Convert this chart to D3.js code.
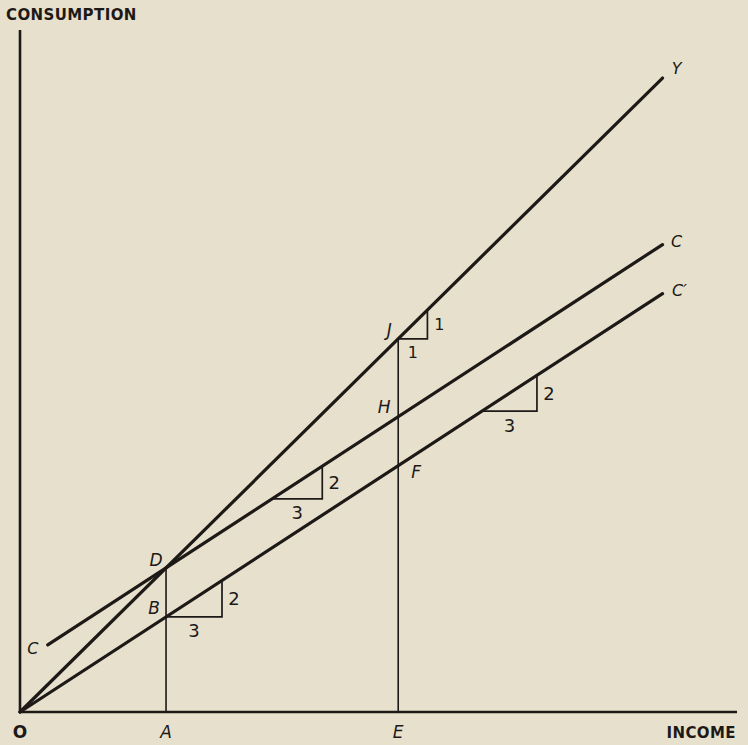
<!DOCTYPE html>
<html>
<head>
<meta charset="utf-8">
<script src="https://cdn.jsdelivr.net/npm/d3@7"></script>
<style>
  html, body { margin: 0; padding: 0; background: #e7e0cd; }
  svg { display: block; }
  text { fill: #1d1917; font-family: "DejaVu Sans", "Liberation Sans", sans-serif; }
</style>
</head>
<body>
<svg id="chart" width="748" height="745"></svg>
<script>
// DATA (income / consumption units)
const scheduleNames = ["Y", "C", "C′"];
const scheduleIntercepts = [0, 1.02, 0];
const scheduleSlopes = [1, 0.66, 0.66];
const scheduleStarts = [0, 0.57, 0];
const scheduleEnds = [13.2, 13.2, 13.2];

const incomeLabels = ["O", "A", "E"];
const incomeValues = [0, 3, 7.77];

// drop lines from a schedule down to the income axis
const dropIncome = [3, 7.77];
const dropSchedule = ["Y", "Y"];

// named points: [label, income, schedule]
const pointLabels = ["D", "B", "J", "H", "F"];
const pointIncome = [3, 3, 7.77, 7.77, 7.77];
const pointSchedule = ["Y", "C′", "Y", "C", "C′"];

// slope triangles
const triSchedule = ["C′", "C", "C′", "Y"];
const triStart = [3, 5.18, 9.49, 7.77];
const triRun = [1.15, 1.03, 1.13, 0.6];
const triRunLabel = ["3", "3", "3", "1"];
const triRiseLabel = ["2", "2", "2", "1"];

const xMax = 14.73, yMax = 14.2;

// CANVAS SETUP
const svg = d3.select("#chart");
const ink = "#1d1917";

const x = d3.scaleLinear().domain([0, xMax]).range([20, 737]);
const y = d3.scaleLinear().domain([0, yMax]).range([712, 30]);

const sched = (name) => {
  const i = scheduleNames.indexOf(name);
  return (v) => scheduleIntercepts[i] + scheduleSlopes[i] * v;
};

// axes drawn as plain lines (no ticks in the original)
const gAxis = svg.append("g");
gAxis.append("line")
  .attr("x1", x(0)).attr("x2", x(0))
  .attr("y1", y(0) + 1).attr("y2", y(yMax))
  .attr("stroke", ink).attr("stroke-width", 2.6);
gAxis.append("line")
  .attr("x1", x(0) - 1).attr("x2", x(xMax))
  .attr("y1", y(0)).attr("y2", y(0))
  .attr("stroke", ink).attr("stroke-width", 2.6);

gAxis.append("text")
  .attr("x", 6).attr("y", 20)
  .attr("font-size", 15).attr("font-weight", "bold")
  .attr("letter-spacing", 0.4)
  .text("CONSUMPTION");
gAxis.append("text")
  .attr("x", x(xMax) - 1).attr("y", 738)
  .attr("text-anchor", "end")
  .attr("font-size", 15).attr("font-weight", "bold")
  .attr("letter-spacing", 0.4)
  .text("INCOME");

gAxis.selectAll(".incomeLabel")
  .data(incomeLabels)
  .join("text")
  .attr("class", "incomeLabel")
  .attr("x", (d, i) => x(incomeValues[i]))
  .attr("y", 738)
  .attr("text-anchor", "middle")
  .attr("font-size", 17)
  .attr("font-style", (d) => (d === "O" ? "normal" : "italic"))
  .attr("font-weight", (d) => (d === "O" ? "bold" : "normal"))
  .text((d) => d);

// drop lines
svg.append("g").selectAll("line")
  .data(dropIncome)
  .join("line")
  .attr("x1", (d) => x(d)).attr("x2", (d) => x(d))
  .attr("y1", (d, i) => y(sched(dropSchedule[i])(d)))
  .attr("y2", y(0))
  .attr("stroke", ink).attr("stroke-width", 1.6);

// schedules
const gLines = svg.append("g");
gLines.selectAll("line")
  .data(scheduleNames)
  .join("line")
  .attr("x1", (d, i) => x(scheduleStarts[i]))
  .attr("y1", (d, i) => y(sched(d)(scheduleStarts[i])))
  .attr("x2", (d, i) => x(scheduleEnds[i]))
  .attr("y2", (d, i) => y(sched(d)(scheduleEnds[i])))
  .attr("stroke", ink).attr("stroke-width", 3.2)
  .attr("stroke-linecap", "round");

gLines.selectAll(".endLabel")
  .data(scheduleNames)
  .join("text")
  .attr("class", "endLabel")
  .attr("x", (d, i) => x(scheduleEnds[i]) + (d === "C′" ? 17 : 14))
  .attr("y", (d, i) => y(sched(d)(scheduleEnds[i])) - (d === "Y" ? 10 : 3))
  .attr("dominant-baseline", "central")
  .attr("text-anchor", "middle")
  .attr("font-size", 16).attr("font-style", "italic")
  .text((d) => d);

// left-end label of C
gLines.append("text")
  .attr("x", x(scheduleStarts[1]) - 15)
  .attr("y", y(sched("C")(scheduleStarts[1])) + 4)
  .attr("dominant-baseline", "central")
  .attr("text-anchor", "middle")
  .attr("font-size", 16).attr("font-style", "italic")
  .text("C");

// slope triangles
const gTri = svg.append("g");
triSchedule.forEach((s, i) => {
  const f = sched(s);
  const x0 = triStart[i], x1 = triStart[i] + triRun[i];
  const px0 = x(x0), px1 = x(x1), py0 = y(f(x0)), py1 = y(f(x1));
  gTri.append("path")
    .attr("d", d3.line()([[px0, py0], [px1, py0], [px1, py1]]))
    .attr("fill", "none").attr("stroke", ink).attr("stroke-width", 1.7);
  gTri.append("text")
    .attr("x", (px0 + px1) / 2).attr("y", py0 + 14)
    .attr("text-anchor", "middle").attr("dominant-baseline", "central")
    .attr("font-size", triRunLabel[i] === "1" ? 16 : 18)
    .text(triRunLabel[i]);
  gTri.append("text")
    .attr("x", px1 + 12).attr("y", (py0 + py1) / 2)
    .attr("text-anchor", "middle").attr("dominant-baseline", "central")
    .attr("font-size", triRiseLabel[i] === "1" ? 16 : 18)
    .text(triRiseLabel[i]);
});

// point labels
const labelOffsets = { D: [-10, -8], B: [-12, -9], J: [-9, -9], H: [-14, -10], F: [18, 6] };
svg.append("g").selectAll("text")
  .data(pointLabels)
  .join("text")
  .attr("x", (d, i) => x(pointIncome[i]) + labelOffsets[d][0])
  .attr("y", (d, i) => y(sched(pointSchedule[i])(pointIncome[i])) + labelOffsets[d][1])
  .attr("text-anchor", "middle").attr("dominant-baseline", "central")
  .attr("font-size", 17).attr("font-style", "italic")
  .text((d) => d);
</script>
</body>
</html>
